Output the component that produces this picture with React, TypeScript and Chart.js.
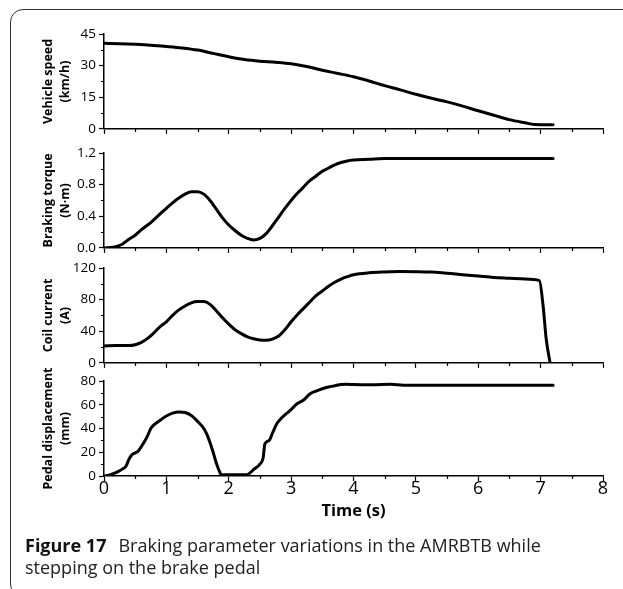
import React, { useEffect, useRef } from 'react';
import { Chart, registerables } from 'chart.js';

Chart.register(...registerables);

// ---------- data ----------
const speedTime = [0, 0.25, 0.5, 0.75, 1.0, 1.25, 1.5, 1.75, 2.0, 2.25, 2.5, 2.75, 3.0, 3.25, 3.5, 3.75, 4.0, 4.25, 4.5, 4.75, 5.0, 5.25, 5.5, 5.75, 6.0, 6.25, 6.5, 6.75, 6.9, 7.2];
const speedValues = [40.6, 40.4, 40.1, 39.7, 39.1, 38.4, 37.4, 35.8, 34.2, 32.9, 32.1, 31.6, 30.9, 29.6, 27.8, 26.3, 24.7, 22.7, 20.5, 18.5, 16.4, 14.5, 12.8, 10.8, 8.6, 6.5, 4.4, 2.9, 2.1, 2.0];

const torqueTime = [0, 0.15, 0.3, 0.4, 0.5, 0.6, 0.75, 0.9, 1.0, 1.1, 1.2, 1.3, 1.4, 1.5, 1.6, 1.7, 1.8, 1.9, 2.0, 2.1, 2.2, 2.3, 2.4, 2.5, 2.6, 2.7, 2.8, 2.9, 3.0, 3.1, 3.2, 3.3, 3.4, 3.5, 3.6, 3.7, 3.8, 3.9, 4.0, 4.25, 4.5, 5.0, 5.5, 6.0, 6.5, 7.0, 7.2];
const torqueValues = [0.0, 0.01, 0.05, 0.11, 0.16, 0.23, 0.32, 0.43, 0.5, 0.57, 0.63, 0.68, 0.71, 0.71, 0.68, 0.6, 0.49, 0.38, 0.29, 0.22, 0.16, 0.12, 0.1, 0.12, 0.18, 0.28, 0.39, 0.5, 0.6, 0.69, 0.77, 0.85, 0.91, 0.97, 1.01, 1.05, 1.08, 1.1, 1.11, 1.12, 1.13, 1.13, 1.13, 1.13, 1.13, 1.13, 1.13];

const currentTime = [0, 0.2, 0.4, 0.5, 0.6, 0.7, 0.8, 0.9, 1.0, 1.1, 1.2, 1.3, 1.4, 1.5, 1.6, 1.7, 1.8, 1.9, 2.0, 2.1, 2.2, 2.3, 2.4, 2.5, 2.6, 2.7, 2.8, 2.9, 3.0, 3.1, 3.2, 3.3, 3.4, 3.5, 3.6, 3.7, 3.8, 3.9, 4.0, 4.25, 4.5, 4.75, 5.0, 5.25, 5.5, 5.75, 6.0, 6.25, 6.5, 6.75, 6.98, 7.04, 7.09, 7.15];
const currentValues = [21.5, 22, 22, 23, 26, 31, 38, 46, 52, 60, 67, 72, 76, 77.5, 77.5, 74, 66, 57, 49, 42, 37, 33, 30.5, 29, 28.5, 30, 34, 42, 52, 61, 69, 77, 85, 91, 97, 102, 106, 109, 111.5, 114, 115, 115.5, 115.3, 114.8, 113.5, 111.5, 109.8, 108, 107, 106, 104, 72, 30, 0.5];

const pedalTime = [0, 0.1, 0.2, 0.3, 0.35, 0.4, 0.45, 0.5, 0.55, 0.6, 0.65, 0.7, 0.75, 0.8, 0.9, 1.0, 1.1, 1.2, 1.3, 1.4, 1.5, 1.6, 1.65, 1.7, 1.75, 1.8, 1.85, 1.88, 2.0, 2.1, 2.29, 2.35, 2.4, 2.5, 2.55, 2.58, 2.65, 2.7, 2.77, 2.85, 2.98, 3.1, 3.2, 3.3, 3.4, 3.5, 3.6, 3.7, 3.8, 3.9, 4.0, 4.3, 4.6, 4.8, 5.5, 6.5, 7.2];
const pedalValues = [0, 1, 3, 6, 8, 14, 18, 19.5, 21, 25, 29, 34, 40, 43, 47, 50.5, 53, 54, 53.5, 51, 46, 40, 35, 28, 20, 11, 4, 1, 1, 1, 1, 3, 5.5, 10, 15, 27, 30, 36, 44, 49, 55, 61, 64, 69, 71.5, 73.5, 75, 76, 77, 77.3, 77, 76.8, 77.2, 76.5, 76.5, 76.5, 76.5];

const speedTitle = ['Vehicle speed', '(km/h)'];
const torqueTitle = ['Braking torque', '(N\u00b7m)'];
const currentTitle = ['Coil current', '(A)'];
const pedalTitle = ['Pedal displacement', '(mm)'];
const xTitle = 'Time (s)';
const captionBold = 'Figure 17';
const captionLine1 = 'Braking parameter variations in the AMRBTB while';
const captionLine2 = 'stepping on the brake pedal';

// ---------- plugins ----------
const minorTicksPlugin = {
  id: 'minorTicks',
  afterDraw(chart: any, _args: any, opts: any) {
    const ctx = chart.ctx;
    const area = chart.chartArea;
    const xs = chart.scales.x;
    const ys = chart.scales.y;
    ctx.save();
    ctx.strokeStyle = '#000';
    ctx.lineWidth = 1.2;
    ctx.beginPath();
    const eps = 1e-6;
    for (let i = 0; ; i++) {
      const v = xs.min + i * opts.xMinor;
      if (v > xs.max + eps) break;
      const r = v / opts.xMajor;
      if (Math.abs(r - Math.round(r)) < eps) continue;
      const px = Math.round(xs.getPixelForValue(v)) + 0.5;
      ctx.moveTo(px, area.bottom);
      ctx.lineTo(px, area.bottom + 3);
    }
    for (let i = 0; ; i++) {
      const v = ys.min + i * opts.yMinor;
      if (v > ys.max + eps) break;
      const r = v / opts.yMajor;
      if (Math.abs(r - Math.round(r)) < eps) continue;
      const py = Math.round(ys.getPixelForValue(v)) + 0.5;
      ctx.moveTo(area.left, py);
      ctx.lineTo(area.left - 3, py);
    }
    ctx.stroke();
    ctx.restore();
  },
};

const yTitlePlugin = {
  id: 'yTitle',
  afterDraw(chart: any, _args: any, opts: any) {
    const ctx = chart.ctx;
    const area = chart.chartArea;
    const cy = (area.top + area.bottom) / 2;
    ctx.save();
    ctx.fillStyle = '#000';
    ctx.font = 'bold 12.5px "Open Sans"';
    ctx.textAlign = 'center';
    ctx.textBaseline = 'middle';
    (opts.lines as string[]).forEach((line, i) => {
      ctx.save();
      ctx.translate(opts.x + i * opts.gap, cy);
      ctx.rotate(-Math.PI / 2);
      ctx.fillText(line, 0, 0);
      ctx.restore();
    });
    ctx.restore();
  },
};

type Panel = {
  top: number;
  height: number;
  padTop: number;
  xAxisH: number;
  times: number[];
  values: number[];
  yMax: number;
  yStep: number;
  yMinor: number;
  decimals: number;
  title: string[];
  showX: boolean;
};

const panels: Panel[] = [
  { top: 20, height: 120, padTop: 14, xAxisH: 10, times: speedTime, values: speedValues, yMax: 45, yStep: 15, yMinor: 7.5, decimals: 0, title: speedTitle, showX: false },
  { top: 139, height: 120, padTop: 14, xAxisH: 10, times: torqueTime, values: torqueValues, yMax: 1.2, yStep: 0.4, yMinor: 0.2, decimals: 1, title: torqueTitle, showX: false },
  { top: 254, height: 120, padTop: 14, xAxisH: 10, times: currentTime, values: currentValues, yMax: 120, yStep: 40, yMinor: 20, decimals: 0, title: currentTitle, showX: false },
  { top: 367, height: 157, padTop: 14, xAxisH: 48, times: pedalTime, values: pedalValues, yMax: 80, yStep: 20, yMinor: 10, decimals: 0, title: pedalTitle, showX: true },
];

function PanelChart({ p }: { p: Panel }) {
  const ref = useRef<HTMLCanvasElement | null>(null);
  useEffect(() => {
    if (!ref.current) return;
    const chart = new Chart(ref.current, {
      type: 'line',
      data: {
        datasets: [
          {
            data: p.times.map((t, i) => ({ x: t, y: p.values[i] })),
            borderColor: '#000',
            borderWidth: 3,
            pointRadius: 0,
            fill: false,
            cubicInterpolationMode: 'monotone',
            borderJoinStyle: 'round',
            borderCapStyle: 'round',
          } as any,
        ],
      },
      options: {
        animation: false,
        responsive: false,
        maintainAspectRatio: false,
        events: [],
        layout: { padding: { top: p.padTop, right: 20, left: 0, bottom: 0 } },
        plugins: {
          legend: { display: false },
          tooltip: { enabled: false },
          minorTicks: { xMajor: 1, xMinor: 0.5, yMajor: p.yStep, yMinor: p.yMinor },
          yTitle: { lines: p.title, x: 48, gap: 17 },
        } as any,
        scales: {
          x: {
            type: 'linear',
            min: 0,
            max: 8,
            ticks: {
              stepSize: 1,
              display: p.showX,
              font: { size: 18, family: 'Open Sans', lineHeight: 1 },
              color: '#000',
              padding: -1,
              maxRotation: 0,
              autoSkip: false,
            },
            grid: { drawOnChartArea: false, drawTicks: true, tickLength: 5, tickColor: '#000', tickWidth: 1.2 },
            border: { color: '#000', width: 1.5 },
            title: {
              display: p.showX,
              text: xTitle,
              font: { size: 16.5, weight: 'bold', family: 'Open Sans' },
              color: '#000',
              padding: { top: 0, bottom: 3 },
            },
            afterFit: (s: any) => {
              s.height = p.xAxisH;
            },
          },
          y: {
            type: 'linear',
            min: 0,
            max: p.yMax,
            ticks: {
              stepSize: p.yStep,
              font: { size: 13.5, family: 'Open Sans' },
              color: '#000',
              padding: 3,
              callback: (v: any) => Number(v).toFixed(p.decimals),
            },
            grid: { drawOnChartArea: false, drawTicks: true, tickLength: 5, tickColor: '#000', tickWidth: 1.2 },
            border: { color: '#000', width: 1.5 },
            afterFit: (s: any) => {
              s.width = 104;
            },
          },
        } as any,
      },
      plugins: [minorTicksPlugin, yTitlePlugin],
    });
    return () => chart.destroy();
  }, [p]);
  return (
    <canvas
      ref={ref}
      width={623}
      height={p.height}
      style={{ position: 'absolute', left: 0, top: p.top, width: 623, height: p.height }}
    />
  );
}

export default function App() {
  return (
    <div
      style={{
        position: 'absolute',
        left: 0,
        top: 0,
        width: 623,
        height: 589,
        overflow: 'hidden',
        background: '#fff',
        fontFamily: '"Open Sans", sans-serif',
      }}
    >
      <div
        style={{
          position: 'absolute',
          left: 10,
          top: 9,
          width: 700,
          height: 588,
          border: '1.5px solid #333',
          borderRadius: 13,
          boxSizing: 'border-box',
        }}
      />
      {panels.map((p, i) => (
        <PanelChart key={i} p={p} />
      ))}
      <div
        style={{
          position: 'absolute',
          left: 25,
          top: 534,
          width: 595,
          fontSize: 18,
          lineHeight: '22px',
          color: '#222',
          whiteSpace: 'nowrap',
        }}
      >
        <span style={{ fontWeight: 'bold', color: '#111' }}>{captionBold}</span>
        <span style={{ marginLeft: 12 }}>{captionLine1}</span>
        <br />
        <span>{captionLine2}</span>
      </div>
    </div>
  );
}
